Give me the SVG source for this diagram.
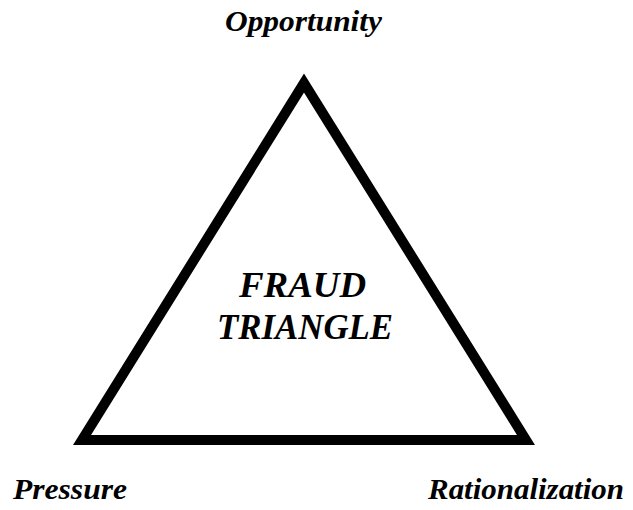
<svg xmlns="http://www.w3.org/2000/svg" width="633" height="510" viewBox="0 0 633 510">
<style>
.t{font-family:"Liberation Serif","Times New Roman",serif;font-weight:bold;font-style:italic;fill:#000}
.l{font-size:30px}
.c{font-size:36px}
</style>
<rect width="633" height="510" fill="#fff"/>
<g id="triangle">
<polygon points="304,83 82,440 526,440" fill="none" stroke="#000" stroke-width="10" stroke-linejoin="miter"/>
<text class="t c" x="239" y="297" textLength="127" lengthAdjust="spacingAndGlyphs">FRAUD</text>
<text class="t c" x="217" y="339" textLength="176" lengthAdjust="spacingAndGlyphs">TRIANGLE</text>
</g>
<g id="opportunity"><text class="t l" x="225" y="31" textLength="157" lengthAdjust="spacingAndGlyphs">Opportunity</text></g>
<g id="pressure"><text class="t l" x="13" y="499" textLength="114" lengthAdjust="spacingAndGlyphs">Pressure</text></g>
<g id="rationalization"><text class="t l" x="428" y="499" textLength="196" lengthAdjust="spacingAndGlyphs">Rationalization</text></g>
</svg>
